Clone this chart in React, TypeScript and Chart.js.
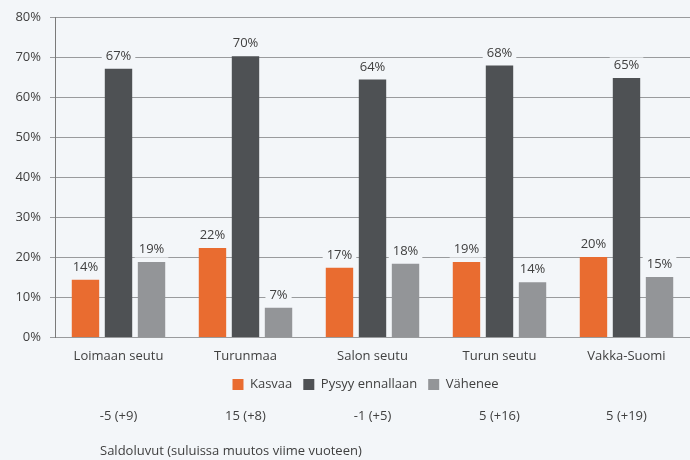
import React, { useEffect, useRef } from "react";
import { Chart, registerables } from "chart.js";

Chart.register(...registerables);

const categories = ["Loimaan seutu", "Turunmaa", "Salon seutu", "Turun seutu", "Vakka-Suomi"];
const kasvaa = [14.4, 22.3, 17.4, 18.8, 20.1];
const pysyy = [67.1, 70.2, 64.4, 67.9, 64.8];
const vahenee = [18.8, 7.4, 18.4, 13.8, 15.1];
const seriesNames = ["Kasvaa", "Pysyy ennallaan", "Vähenee"];
const saldo = ["-5 (+9)", "15 (+8)", "-1 (+5)", "5 (+16)", "5 (+19)"];
const footnote = "Saldoluvut (suluissa muutos viime vuoteen)";

const BG = "#f3f6f9";
const TEXT = "#404040";
const GRID = "#999b9d";
const AXIS = "#7a7a7a";
const FONT = "'Open Sans', sans-serif";

const labelPlugin = {
  id: "valueLabels",
  afterDatasetsDraw(chart: any) {
    const ctx = chart.ctx;
    ctx.save();
    ctx.font = `13px ${FONT}`;
    ctx.textAlign = "center";
    ctx.textBaseline = "middle";
    chart.data.datasets.forEach((ds: any, di: number) => {
      const meta = chart.getDatasetMeta(di);
      meta.data.forEach((bar: any, i: number) => {
        const txt = Math.round(ds.data[i]) + "%";
        const w = ctx.measureText(txt).width;
        const y = bar.y - 12.5;
        ctx.fillStyle = BG;
        ctx.fillRect(bar.x - w / 2 - 4, y - 8, w + 8, 16);
        ctx.fillStyle = TEXT;
        ctx.fillText(txt, bar.x, y);
      });
    });
    ctx.restore();
  },
};

const legendShift = {
  id: "legendShift",
  afterLayout(chart: any) {
    const l = chart.legend;
    if (l) {
      l.left -= 7;
      l.right -= 7;
    }
  },
};

const footerPlugin = {
  id: "footerRows",
  afterDraw(chart: any) {
    const ctx = chart.ctx;
    const xs = chart.scales.x;
    ctx.save();
    ctx.font = `13px ${FONT}`;
    ctx.fillStyle = TEXT;
    ctx.textBaseline = "middle";
    ctx.textAlign = "center";
    saldo.forEach((s, i) => {
      ctx.fillText(s, xs.getPixelForValue(i), 416);
    });
    ctx.textAlign = "left";
    ctx.fillText(footnote, 100, 451);
    ctx.restore();
  },
};

export default function App() {
  const ref = useRef<HTMLCanvasElement | null>(null);
  useEffect(() => {
    const chart = new Chart(ref.current as HTMLCanvasElement, {
      type: "bar",
      data: {
        labels: categories,
        datasets: [
          { label: seriesNames[0], data: kasvaa, backgroundColor: "#e96c30" },
          { label: seriesNames[1], data: pysyy, backgroundColor: "#4e5154" },
          { label: seriesNames[2], data: vahenee, backgroundColor: "#939598" },
        ],
      },
      options: {
        responsive: false,
        animation: false,
        layout: { padding: { top: 17, bottom: 59, left: 0, right: 0 } },
        datasets: {
          bar: { categoryPercentage: 0.78, barPercentage: 0.83 },
        },
        plugins: {
          legend: {
            position: "bottom",
            fullSize: false,
            labels: {
              boxWidth: 11,
              boxHeight: 11,
              color: TEXT,
              font: { family: FONT, size: 13 },
              padding: 11,
            },
          },
          tooltip: { enabled: false },
        },
        scales: {
          x: {
            grid: { display: false },
            border: { display: true, color: GRID },
            ticks: { color: TEXT, font: { family: FONT, size: 13 }, padding: 3 },
          },
          y: {
            min: 0,
            max: 80,
            afterFit: (s: any) => {
              s.width = 55;
            },
            grid: { color: GRID, tickLength: 5, drawTicks: true },
            border: { display: true, color: AXIS },
            ticks: {
              stepSize: 10,
              color: TEXT,
              font: { family: FONT, size: 13 },
              padding: 9,
              callback: (v: any) => v + "%",
            },
          },
        },
      },
      plugins: [labelPlugin, legendShift, footerPlugin],
    } as any);
    return () => chart.destroy();
  }, []);
  return (
    <div style={{ position: "absolute", left: 0, top: 0, width: 690, height: 460, background: BG }}>
      <canvas ref={ref} width={690} height={460} style={{ display: "block", background: BG }} />
    </div>
  );
}
